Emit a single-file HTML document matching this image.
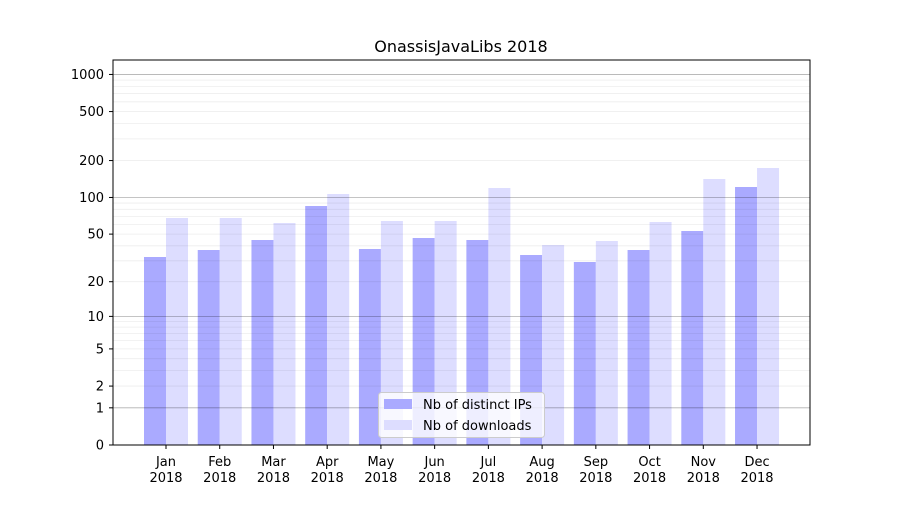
<!DOCTYPE html>
<html><head><meta charset="utf-8"><style>body{margin:0;background:#fff}</style></head>
<body>
<svg width="900" height="500" xmlns="http://www.w3.org/2000/svg" font-family="'DejaVu Sans','Liberation Sans',sans-serif">
<rect width="900" height="500" fill="#fff"/>
<g id="bars"></g>
<g id="grid"></g>
<rect x="113" y="60" width="697" height="385" fill="none" stroke="#000" stroke-width="1"/>
<g id="ticks" font-size="13" fill="#000"></g>
<text x="461" y="52" font-size="16" text-anchor="middle">OnassisJavaLibs 2018</text>
<g>
<rect x="378.5" y="392.5" width="166" height="45" rx="3" fill="#fff" fill-opacity="0.8" stroke="#ccc"/>
<rect x="384" y="399" width="28" height="10" fill="#aaaaff"/>
<rect x="384" y="420" width="28" height="10" fill="#ddddff"/>
<text x="423" y="409" font-size="13">Nb of distinct IPs</text>
<text x="423" y="430" font-size="13">Nb of downloads</text>
</g>
<script>
var ns="http://www.w3.org/2000/svg";
function Y(v){return 445-123.5*Math.log10(v+1);}
function el(t,a,p,txt){var e=document.createElementNS(ns,t);for(var k in a)e.setAttribute(k,a[k]);if(txt!==undefined)e.textContent=txt;document.getElementById(p).appendChild(e);return e;}
var minor=[];
[1,10,100,1000].forEach(function(d){for(var i=1;i<10;i++)minor.push(i*d);});
minor.forEach(function(v){var y=Y(v);if(y<60)return;el("line",{x1:113,x2:810,y1:y,y2:y,stroke:"#000","stroke-opacity":0.07,"stroke-width":0.8},"grid");});
[1,10,100,1000].forEach(function(v){var y=Y(v);el("line",{x1:113,x2:810,y1:y,y2:y,stroke:"#000","stroke-opacity":0.25,"stroke-width":0.8},"grid");});
var blue=[257,250,240,206,249,238,240,255,262,250,231,187];
var light=[218,218,223,194,221,221,188,245,241,222,179,168];
var m=["Jan","Feb","Mar","Apr","May","Jun","Jul","Aug","Sep","Oct","Nov","Dec"];
for(var i=0;i<12;i++){var c=166+i*53.73;
el("rect",{x:c-22,y:blue[i],width:22,height:445-blue[i],fill:"#aaaaff"},"bars");
el("rect",{x:c,y:light[i],width:22,height:445-light[i],fill:"#ddddff"},"bars");
el("line",{x1:c,x2:c,y1:445,y2:449,stroke:"#000"},"ticks");
el("text",{x:c,y:466,"text-anchor":"middle"},"ticks",m[i]);
el("text",{x:c,y:482,"text-anchor":"middle"},"ticks","2018");}
[0,1,2,5,10,20,50,100,200,500,1000].forEach(function(v){var y=Y(v);
el("line",{x1:109,x2:113,y1:y,y2:y,stroke:"#000"},"ticks");
el("text",{x:104,y:y+4.5,"text-anchor":"end"},"ticks",String(v));});
</script>
</svg>
</body></html>
